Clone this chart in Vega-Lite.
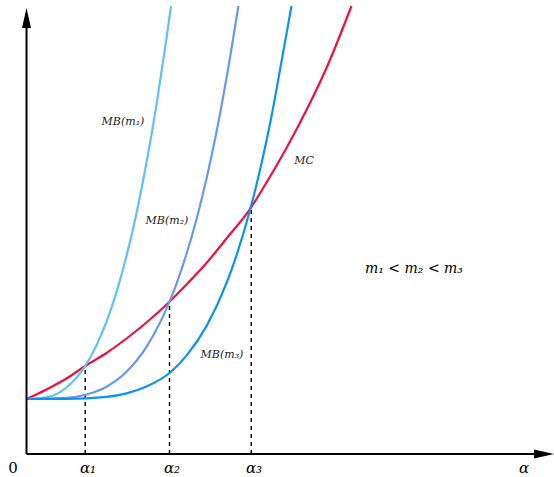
{
  "$schema": "https://vega.github.io/schema/vega-lite/v6.json",
  "width": 554,
  "height": 477,
  "padding": 0,
  "autosize": {"type": "none"},
  "background": "white",
  "config": {"view": {"stroke": null}},
  "datasets": {
    "curves": [
      {"series": "MC", "x": 0, "y": 55}, {"series": "MC", "x": 20, "y": 64.6}, {"series": "MC", "x": 40, "y": 75.5}, {"series": "MC", "x": 58.7, "y": 88}, {"series": "MC", "x": 80, "y": 101}, {"series": "MC", "x": 100, "y": 115.5}, {"series": "MC", "x": 120, "y": 131.5}, {"series": "MC", "x": 143, "y": 152.3}, {"series": "MC", "x": 160, "y": 169.5}, {"series": "MC", "x": 180, "y": 191}, {"series": "MC", "x": 200, "y": 215.5}, {"series": "MC", "x": 224, "y": 245.7}, {"series": "MC", "x": 240, "y": 271.5}, {"series": "MC", "x": 260, "y": 306}, {"series": "MC", "x": 280, "y": 344}, {"series": "MC", "x": 300, "y": 386}, {"series": "MC", "x": 325, "y": 448},
      {"series": "m1", "x": 0, "y": 55}, {"series": "m1", "x": 20, "y": 56.7}, {"series": "m1", "x": 40, "y": 66.5}, {"series": "m1", "x": 58.7, "y": 88}, {"series": "m1", "x": 70, "y": 108.6}, {"series": "m1", "x": 80, "y": 132.4}, {"series": "m1", "x": 90, "y": 161.9}, {"series": "m1", "x": 100, "y": 197.9}, {"series": "m1", "x": 110, "y": 240.8}, {"series": "m1", "x": 120, "y": 291.2}, {"series": "m1", "x": 130, "y": 349.3}, {"series": "m1", "x": 140, "y": 415.6}, {"series": "m1", "x": 144.5, "y": 448},
      {"series": "m2", "x": 0, "y": 55}, {"series": "m2", "x": 40, "y": 56.1}, {"series": "m2", "x": 60, "y": 59.5}, {"series": "m2", "x": 80, "y": 67.3}, {"series": "m2", "x": 100, "y": 82.3}, {"series": "m2", "x": 120, "y": 107.2}, {"series": "m2", "x": 143, "y": 152.3}, {"series": "m2", "x": 150, "y": 170.2}, {"series": "m2", "x": 160, "y": 200}, {"series": "m2", "x": 170, "y": 234.7}, {"series": "m2", "x": 180, "y": 275.3}, {"series": "m2", "x": 190, "y": 322}, {"series": "m2", "x": 200, "y": 376}, {"series": "m2", "x": 211.9, "y": 448},
      {"series": "m3", "x": 0, "y": 55}, {"series": "m3", "x": 40, "y": 55.1}, {"series": "m3", "x": 80, "y": 57.1}, {"series": "m3", "x": 100, "y": 60.6}, {"series": "m3", "x": 120, "y": 67.5}, {"series": "m3", "x": 143, "y": 81}, {"series": "m3", "x": 160, "y": 98.4}, {"series": "m3", "x": 180, "y": 127.9}, {"series": "m3", "x": 200, "y": 170.8}, {"series": "m3", "x": 210, "y": 198.6}, {"series": "m3", "x": 224, "y": 245.7}, {"series": "m3", "x": 235, "y": 290.4}, {"series": "m3", "x": 245, "y": 337.8}, {"series": "m3", "x": 255, "y": 392.4}, {"series": "m3", "x": 265, "y": 448}
    ],
    "drops": [
      {"x": 58.7, "y0": 0, "y1": 88},
      {"x": 143, "y0": 0, "y1": 152.3},
      {"x": 224.7, "y0": 0, "y1": 245.7}
    ],
    "axes": [
      {"x": 0, "y": 0, "x2": 0, "y2": 432},
      {"x": 0, "y": 0, "x2": 515, "y2": 0}
    ],
    "arrowUp": [{"x": 0, "y": 436}],
    "arrowRight": [{"x": 517.5, "y": 0}],
    "origin": [{"x": -13.5, "y": -14, "text": "0"}],
    "ticks": [
      {"x": 61.5, "y": -14, "text": "α₁"},
      {"x": 145.5, "y": -14, "text": "α₂"},
      {"x": 227.5, "y": -14, "text": "α₃"},
      {"x": 497.5, "y": -14, "text": "α"}
    ],
    "curveLabels": [
      {"x": 96.5, "y": 332, "text": "MB(m₁)"},
      {"x": 140.5, "y": 233, "text": "MB(m₂)"},
      {"x": 195.5, "y": 99, "text": "MB(m₃)"},
      {"x": 277.5, "y": 293, "text": "MC"}
    ],
    "note": [{"x": 387.5, "y": 185, "text": "m₁ < m₂ < m₃"}]
  },
  "layer": [
    {
      "data": {"name": "drops"},
      "mark": {"type": "rule", "color": "black", "strokeWidth": 1.4, "strokeDash": [4, 4]},
      "encoding": {
        "x": {"field": "x", "type": "quantitative", "scale": {"domain": [-26.5, 527.5], "range": [0, 554]}, "axis": null},
        "y": {"field": "y0", "type": "quantitative", "scale": {"domain": [-23, 454], "range": [477, 0]}, "axis": null},
        "y2": {"field": "y1"}
      }
    },
    {
      "data": {"name": "curves"},
      "mark": {"type": "line", "strokeWidth": 2.2, "interpolate": "monotone"},
      "encoding": {
        "x": {"field": "x", "type": "quantitative", "scale": {"domain": [-26.5, 527.5], "range": [0, 554]}, "axis": null},
        "y": {"field": "y", "type": "quantitative", "scale": {"domain": [-23, 454], "range": [477, 0]}, "axis": null},
        "color": {"field": "series", "type": "nominal", "scale": {"domain": ["MC", "m1", "m2", "m3"], "range": ["#F0103C", "#5BC3F8", "#6A97F2", "#0A93F2"]}, "legend": null},
        "order": {"field": "x", "type": "quantitative"}
      }
    },
    {
      "data": {"name": "axes"},
      "mark": {"type": "rule", "color": "black", "strokeWidth": 2},
      "encoding": {
        "x": {"field": "x", "type": "quantitative", "scale": {"domain": [-26.5, 527.5], "range": [0, 554]}, "axis": null},
        "y": {"field": "y", "type": "quantitative", "scale": {"domain": [-23, 454], "range": [477, 0]}, "axis": null},
        "x2": {"field": "x2"},
        "y2": {"field": "y2"}
      }
    },
    {
      "data": {"name": "arrowUp"},
      "mark": {"type": "point", "filled": true, "color": "black", "opacity": 1, "shape": "M0,-1L0.45,1L-0.45,1Z", "size": 400, "strokeWidth": 0},
      "encoding": {
        "x": {"field": "x", "type": "quantitative", "scale": {"domain": [-26.5, 527.5], "range": [0, 554]}, "axis": null},
        "y": {"field": "y", "type": "quantitative", "scale": {"domain": [-23, 454], "range": [477, 0]}, "axis": null}
      }
    },
    {
      "data": {"name": "arrowRight"},
      "mark": {"type": "point", "filled": true, "color": "black", "opacity": 1, "shape": "M1,0L-1,0.45L-1,-0.45Z", "size": 400, "strokeWidth": 0},
      "encoding": {
        "x": {"field": "x", "type": "quantitative", "scale": {"domain": [-26.5, 527.5], "range": [0, 554]}, "axis": null},
        "y": {"field": "y", "type": "quantitative", "scale": {"domain": [-23, 454], "range": [477, 0]}, "axis": null}
      }
    },
    {
      "data": {"name": "origin"},
      "mark": {"type": "text", "font": "DejaVu Serif", "fontSize": 15, "color": "black", "align": "center", "baseline": "middle"},
      "encoding": {
        "x": {"field": "x", "type": "quantitative", "scale": {"domain": [-26.5, 527.5], "range": [0, 554]}, "axis": null},
        "y": {"field": "y", "type": "quantitative", "scale": {"domain": [-23, 454], "range": [477, 0]}, "axis": null},
        "text": {"field": "text"}
      }
    },
    {
      "data": {"name": "ticks"},
      "mark": {"type": "text", "font": "DejaVu Serif", "fontStyle": "italic", "fontSize": 15, "color": "black", "align": "center", "baseline": "middle"},
      "encoding": {
        "x": {"field": "x", "type": "quantitative", "scale": {"domain": [-26.5, 527.5], "range": [0, 554]}, "axis": null},
        "y": {"field": "y", "type": "quantitative", "scale": {"domain": [-23, 454], "range": [477, 0]}, "axis": null},
        "text": {"field": "text"}
      }
    },
    {
      "data": {"name": "curveLabels"},
      "mark": {"type": "text", "font": "DejaVu Serif", "fontStyle": "italic", "fontSize": 11, "color": "#222", "align": "center", "baseline": "middle"},
      "encoding": {
        "x": {"field": "x", "type": "quantitative", "scale": {"domain": [-26.5, 527.5], "range": [0, 554]}, "axis": null},
        "y": {"field": "y", "type": "quantitative", "scale": {"domain": [-23, 454], "range": [477, 0]}, "axis": null},
        "text": {"field": "text"}
      }
    },
    {
      "data": {"name": "note"},
      "mark": {"type": "text", "font": "DejaVu Serif", "fontStyle": "italic", "fontSize": 14, "color": "black", "align": "center", "baseline": "middle"},
      "encoding": {
        "x": {"field": "x", "type": "quantitative", "scale": {"domain": [-26.5, 527.5], "range": [0, 554]}, "axis": null},
        "y": {"field": "y", "type": "quantitative", "scale": {"domain": [-23, 454], "range": [477, 0]}, "axis": null},
        "text": {"field": "text"}
      }
    }
  ]
}
